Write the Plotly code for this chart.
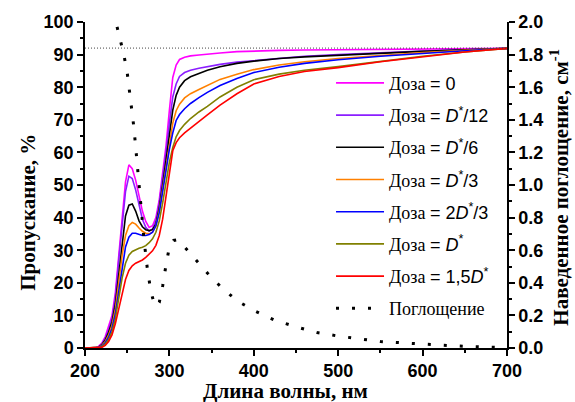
import plotly.graph_objects as go

# ---- data ----
wl = [200, 212, 216, 220, 224, 228, 232, 236, 240, 244, 248, 252, 256, 260, 264, 268, 272, 276,
      280, 284, 288, 292, 296, 300, 304, 308, 312, 318, 325, 335, 345, 360, 380, 400, 430, 460,
      500, 550, 600, 650, 700]

t_dose0 = [0, 0, 0.5, 1.5, 3.5, 6.5, 10, 17, 29, 41, 51, 56.2, 55, 51.5, 46.5, 42, 38.8, 37,
           37.5, 40, 45.5, 53, 62, 73, 83, 86.8, 88.5, 89.2, 89.6, 89.9, 90.2, 90.5, 90.9, 91.1,
           91.3, 91.4, 91.5, 91.6, 91.7, 91.8, 91.9]
t_d12 = [0, 0, 0.3, 1.2, 3, 5.5, 9, 15.5, 27, 38.5, 48, 52.7, 52, 48.5, 43.5, 39.5, 37, 35.8,
         36.5, 39, 44.5, 52, 60, 69, 77, 81, 83.3, 84.5, 85.2, 85.8, 86.3, 87, 87.7, 88.2, 88.9,
         89.5, 90, 90.6, 91.1, 91.5, 91.9]
t_d6 = [0, 0, 0.2, 1, 2.5, 4.8, 8, 13.5, 23, 33, 40.5, 43.8, 44.2, 42, 39, 37.2, 36.3, 36,
        36.3, 38, 43, 50, 58, 66, 73, 77.5, 80, 82, 83.2, 84.2, 85.2, 86.3, 87.3, 88, 88.8, 89.3,
        89.8, 90.5, 91, 91.5, 91.9]
t_d3 = [0, 0, 0.2, 0.8, 2, 4, 7, 12, 20, 28.5, 34.5, 37.5, 38.5, 38, 36.8, 35.8, 35.2, 35,
        35.5, 37.5, 42, 49, 56.5, 63.5, 69, 72.8, 74.8, 76.7, 78, 79.3, 80.6, 82.4, 84, 85.4,
        86.8, 87.8, 88.8, 89.8, 90.6, 91.3, 91.9]
t_2d3 = [0, 0, 0.1, 0.6, 1.6, 3.3, 6, 10.5, 17.5, 25, 31, 34, 35.2, 35.2, 34.8, 34.5, 34.5, 34.8,
         35.5, 37.5, 41.5, 47.5, 54.5, 61, 66, 69.8, 71.6, 73.4, 75, 76.8, 78.4, 80.5, 82.7, 84.5,
         86.1, 87.3, 88.4, 89.5, 90.4, 91.2, 91.9]
t_d = [0, 0, 0, 0.4, 1.2, 2.6, 5, 9, 15, 21.5, 26, 28.5, 29.6, 30.2, 30.6, 30.9, 31.4, 32.3,
       33.5, 35.5, 39, 44.5, 51, 57, 61.5, 64.8, 66.7, 68.6, 70.4, 72.4, 74.1, 77, 80, 82.3,
       84, 85.2, 86.3, 88, 89.5, 90.8, 91.9]
t_15d = [0, 0, 0, 0.2, 0.8, 2, 4, 7.5, 12, 17, 21, 23.8, 25.2, 26, 26.5, 27, 27.8, 28.7,
         29.8, 31.5, 34.5, 39.5, 46.5, 54.5, 60.5, 63, 64.5, 66, 67.5, 69.5, 71.5, 74.5, 78, 81,
         83.3, 84.8, 86, 87.8, 89.4, 90.8, 91.9]

absorb_wl = [238, 242, 246, 250, 254, 258, 262, 266, 270, 274, 278, 282, 285, 288, 292, 296, 300,
             305, 310, 318, 330, 345, 360, 380, 400, 425, 450, 475, 500, 550, 600, 650, 700]
absorb = [1.97, 1.89, 1.80, 1.69, 1.53, 1.35, 1.12, 0.88, 0.66, 0.48, 0.35, 0.27, 0.255, 0.28,
          0.38, 0.51, 0.62, 0.66, 0.665, 0.62, 0.55, 0.46, 0.38, 0.29, 0.23, 0.17, 0.13, 0.095,
          0.073, 0.04, 0.024, 0.01, 0.002]

ref_level = 92

SERIF = "Liberation Serif"
SANS = "Liberation Sans"


def sans(txt):
    return f"<span style=\"font-family:'Liberation Sans',sans-serif\">{txt}</span>"


def doza(rest):
    return "Доза " + sans("= " + rest)


series = [
    (doza("0"), t_dose0, "#FF00FF"),
    (doza("<i>D</i><sup>*</sup>/12"), t_d12, "#8B1EFF"),
    (doza("<i>D</i><sup>*</sup>/6"), t_d6, "#000000"),
    (doza("<i>D</i><sup>*</sup>/3"), t_d3, "#FF8000"),
    (doza("2<i>D</i><sup>*</sup>/3"), t_2d3, "#0000FF"),
    (doza("<i>D</i><sup>*</sup>"), t_d, "#808000"),
    (doza("1,5<i>D</i><sup>*</sup>"), t_15d, "#FF0000"),
]

fig = go.Figure()
for i, (name, vals, col) in enumerate(series):
    fig.add_trace(go.Scatter(x=wl, y=vals, mode="lines", name=name,
                             line=dict(color=col, width=1.6),
                             legendgroup=f"g{i}"))

fig.add_trace(go.Scatter(x=absorb_wl, y=absorb, mode="lines", yaxis="y2",
                         name="Поглощение",
                         line=dict(color="black", width=3, dash="3px,13px"),
                         legendgroup="g8"))

fig.add_hline(y=ref_level, line=dict(color="#444444", width=1, dash="1px,2px"))

tickfont = dict(family=SANS, size=18, color="black", weight=700)
axis_common = dict(
    showline=True, linecolor="black", linewidth=1.5, ticks="outside", ticklen=6,
    tickwidth=1.5, tickcolor="black", showgrid=False, zeroline=False,
    tickfont=tickfont,
)
minor_common = dict(ticklen=3, tickwidth=1.5, tickcolor="black", ticks="outside")

fig.update_layout(
    width=575, height=402,
    margin=dict(l=85, r=68, t=20, b=54),
    paper_bgcolor="white", plot_bgcolor="white",
    showlegend=True,
    legend=dict(x=0.583, y=0.869, xanchor="left", yanchor="top",
                bgcolor="rgba(0,0,0,0)", font=dict(family=SERIF, size=18, color="black"),
                tracegroupgap=5.8, itemwidth=48),
    xaxis=dict(range=[200, 700], dtick=100, tick0=200, minor=dict(dtick=50, **minor_common),
               **axis_common),
    yaxis=dict(range=[0, 100], dtick=10, tick0=0, minor=dict(dtick=5, **minor_common),
               **axis_common),
    yaxis2=dict(range=[0, 2], dtick=0.2, tick0=0, tickformat=".1f", overlaying="y", side="right",
                minor=dict(dtick=0.1, **minor_common), **axis_common),
    annotations=[
        dict(text="<b>Длина волны, нм</b>", xref="paper", yref="paper", x=0.476, y=-0.131,
             xanchor="center", yanchor="middle", showarrow=False,
             font=dict(family=SERIF, size=21, color="black")),
        dict(text="<b>Пропускание, %</b>", xref="paper", yref="paper", x=-0.135, y=0.415,
             xanchor="center", yanchor="middle", showarrow=False, textangle=-90,
             font=dict(family=SERIF, size=21, color="black")),
        dict(text="<b>Наведенное поглощение, см<sup>-1</sup></b>", xref="paper", yref="paper",
             x=1.125, y=0.494, xanchor="center", yanchor="middle", showarrow=False, textangle=-90,
             font=dict(family=SERIF, size=21, color="black")),
    ],
)

fig.write_html("out.html")
